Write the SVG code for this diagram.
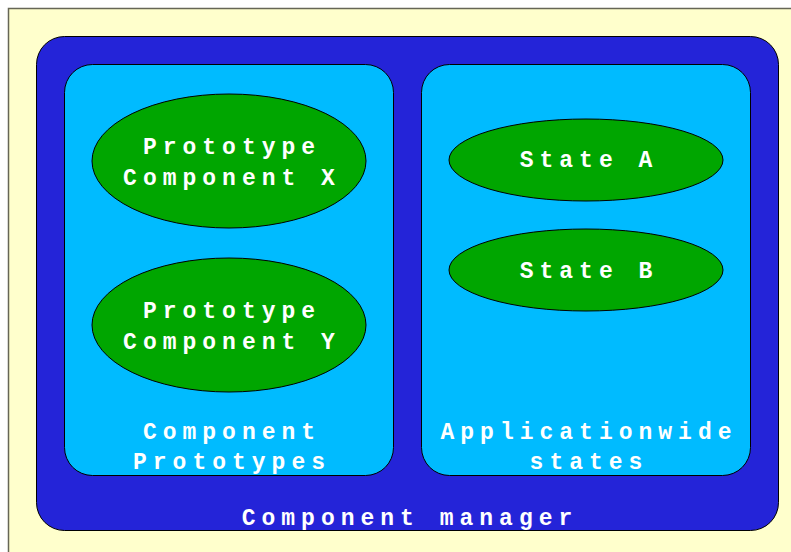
<svg xmlns="http://www.w3.org/2000/svg" width="791" height="552" viewBox="0 0 791 552">
<style>
.bg{fill:#FFFFCC;stroke:#666655;stroke-width:1.5}
.mgr{fill:#2424D8;stroke:#000;stroke-width:1}
.panel{fill:#00BBFF;stroke:#000;stroke-width:1}
.node{fill:#00A600;stroke:#000;stroke-width:1}
text{font-family:"Liberation Mono","Courier New",monospace;font-weight:bold;font-size:23px;fill:#fff;text-anchor:middle;letter-spacing:6px}
</style>
<rect class="bg" x="8.5" y="8.5" width="800" height="560"/>
<g id="component-manager">
<rect class="mgr" x="36.5" y="36.5" width="742" height="494" rx="28" ry="28"/>
<text x="410" y="525">Component manager</text>
</g>
<g id="component-prototypes">
<rect class="panel" x="64.5" y="64.5" width="329" height="411" rx="28" ry="28"/>
<text x="232" y="439">Component</text>
<text x="232" y="469">Prototypes</text>
</g>
<g id="applicationwide-states">
<rect class="panel" x="421.5" y="64.5" width="329" height="411" rx="28" ry="28"/>
<text x="589" y="439">Applicationwide</text>
<text x="589" y="469">states</text>
</g>
<g id="prototype-x">
<ellipse class="node" cx="229" cy="161" rx="137" ry="67"/>
<text x="232" y="154">Prototype</text>
<text x="232" y="185">Component X</text>
</g>
<g id="prototype-y">
<ellipse class="node" cx="229" cy="325" rx="137" ry="67"/>
<text x="232" y="318">Prototype</text>
<text x="232" y="349">Component Y</text>
</g>
<g id="state-a">
<ellipse class="node" cx="586" cy="160" rx="137" ry="41"/>
<text x="589" y="167">State A</text>
</g>
<g id="state-b">
<ellipse class="node" cx="586" cy="270" rx="137" ry="41"/>
<text x="589" y="278">State B</text>
</g>
<g id="connectors"/>
</svg>
